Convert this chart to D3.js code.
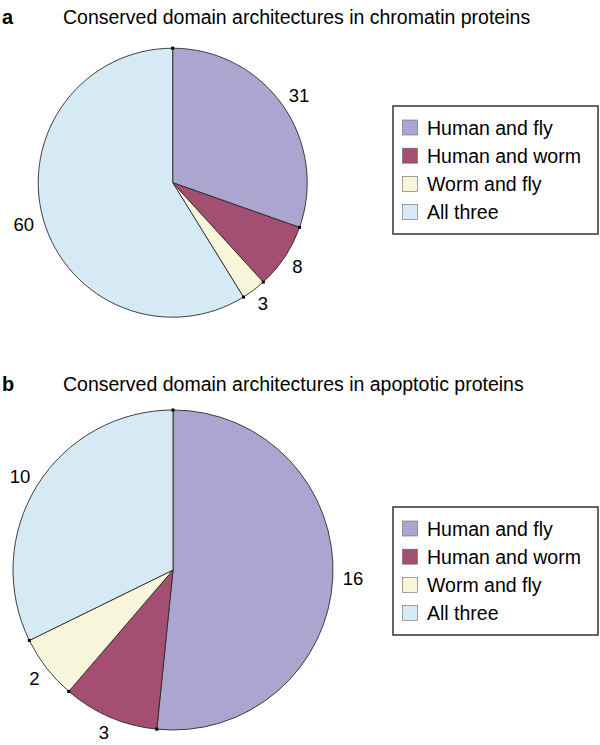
<!DOCTYPE html>
<html>
<head>
<meta charset="utf-8">
<script src="https://cdn.jsdelivr.net/npm/d3@7"></script>
<style>
  html, body { margin: 0; padding: 0; background: #fff; }
  svg { display: block; font-family: "Liberation Sans", Arial, Helvetica, sans-serif; }
</style>
</head>
<body>
<svg id="chart" width="600" height="745"></svg>
<script>
// ---- data ----
const categories = ["Human and fly", "Human and worm", "Worm and fly", "All three"];
const chromatinValues = [31, 8, 3, 60];
const apoptoticValues = [16, 3, 2, 10];
const colors = ["#aba6cf", "#a44e72", "#f7f5da", "#d6eaf6"];
const panelLetters = ["a", "b"];
const panelTitles = [
  "Conserved domain architectures in chromatin proteins",
  "Conserved domain architectures in apoptotic proteins"
];

// ---- layout ----
const svg = d3.select("#chart");
const panels = [
  { values: chromatinValues, cx: 172.7, cy: 182.7, r: 134.5, titleY: 23.5, legendTop: 106 },
  { values: apoptoticValues, cx: 173, cy: 570, r: 160, titleY: 391, legendTop: 507 }
];

const color = d3.scaleOrdinal().domain(categories).range(colors);
const pie = d3.pie().sort(null).value(d => d.value);

panels.forEach((p, pi) => {
  // headings
  svg.append("text")
    .attr("x", 2).attr("y", p.titleY)
    .attr("font-size", 20).attr("font-weight", "bold")
    .attr("fill", "#000")
    .text(panelLetters[pi]);
  svg.append("text")
    .attr("x", 63).attr("y", p.titleY)
    .attr("font-size", 19.5).attr("fill", "#000")
    .text(panelTitles[pi]);

  const data = categories.map((c, i) => ({ cat: c, value: p.values[i] }));
  const arcs = pie(data);
  const arc = d3.arc().innerRadius(0).outerRadius(p.r);
  const g = svg.append("g").attr("transform", `translate(${p.cx},${p.cy})`);

  g.selectAll("path.slice").data(arcs).join("path")
    .attr("class", "slice")
    .attr("d", arc)
    .attr("fill", d => color(d.data.cat))
    .attr("stroke", "#2b2b2b")
    .attr("stroke-width", 0.9)
    .attr("stroke-linejoin", "round");

  // small markers at slice start points on the rim
  g.selectAll("rect.mk").data(arcs).join("rect")
    .attr("class", "mk")
    .attr("x", d => Math.sin(d.startAngle) * p.r - 1.5)
    .attr("y", d => -Math.cos(d.startAngle) * p.r - 1.5)
    .attr("width", 3).attr("height", 3)
    .attr("fill", "#000");

  // value labels outside the rim
  const off = 10, fs = 18.5;
  g.selectAll("text.lbl").data(arcs).join("text")
    .attr("class", "lbl")
    .attr("font-size", fs)
    .attr("fill", "#000")
    .attr("text-anchor", "middle")
    .attr("dominant-baseline", "central")
    .text(d => d.data.value)
    .each(function (d) {
      const a = (d.startAngle + d.endAngle) / 2;
      const w = this.getComputedTextLength();
      const h = fs * 0.75;
      const s = Math.sin(a), c = -Math.cos(a);
      const x = s * (p.r + off) + s * w / 2;
      const y = c * (p.r + off) + c * h / 2;
      d3.select(this).attr("x", x).attr("y", y);
    });

  // legend
  const lx = 393, lw = 205, lh = 128;
  const lg = svg.append("g").attr("transform", `translate(${lx},${p.legendTop})`);
  lg.append("rect")
    .attr("x", 0).attr("y", 0).attr("width", lw).attr("height", lh)
    .attr("fill", "#fff").attr("stroke", "#333").attr("stroke-width", 1.5);
  const rowY = d3.scalePoint().domain(categories).range([21.5, 106]);
  const items = lg.selectAll("g.item").data(categories).join("g")
    .attr("class", "item")
    .attr("transform", d => `translate(0,${rowY(d)})`);
  items.append("rect")
    .attr("x", 9.5).attr("y", -7.5).attr("width", 15).attr("height", 15)
    .attr("fill", d => color(d))
    .attr("stroke", "#666").attr("stroke-width", 0.6);
  items.append("text")
    .attr("x", 34).attr("y", 0)
    .attr("dominant-baseline", "central")
    .attr("font-size", 19.5).attr("fill", "#000")
    .text(d => d);
});
</script>
</body>
</html>
